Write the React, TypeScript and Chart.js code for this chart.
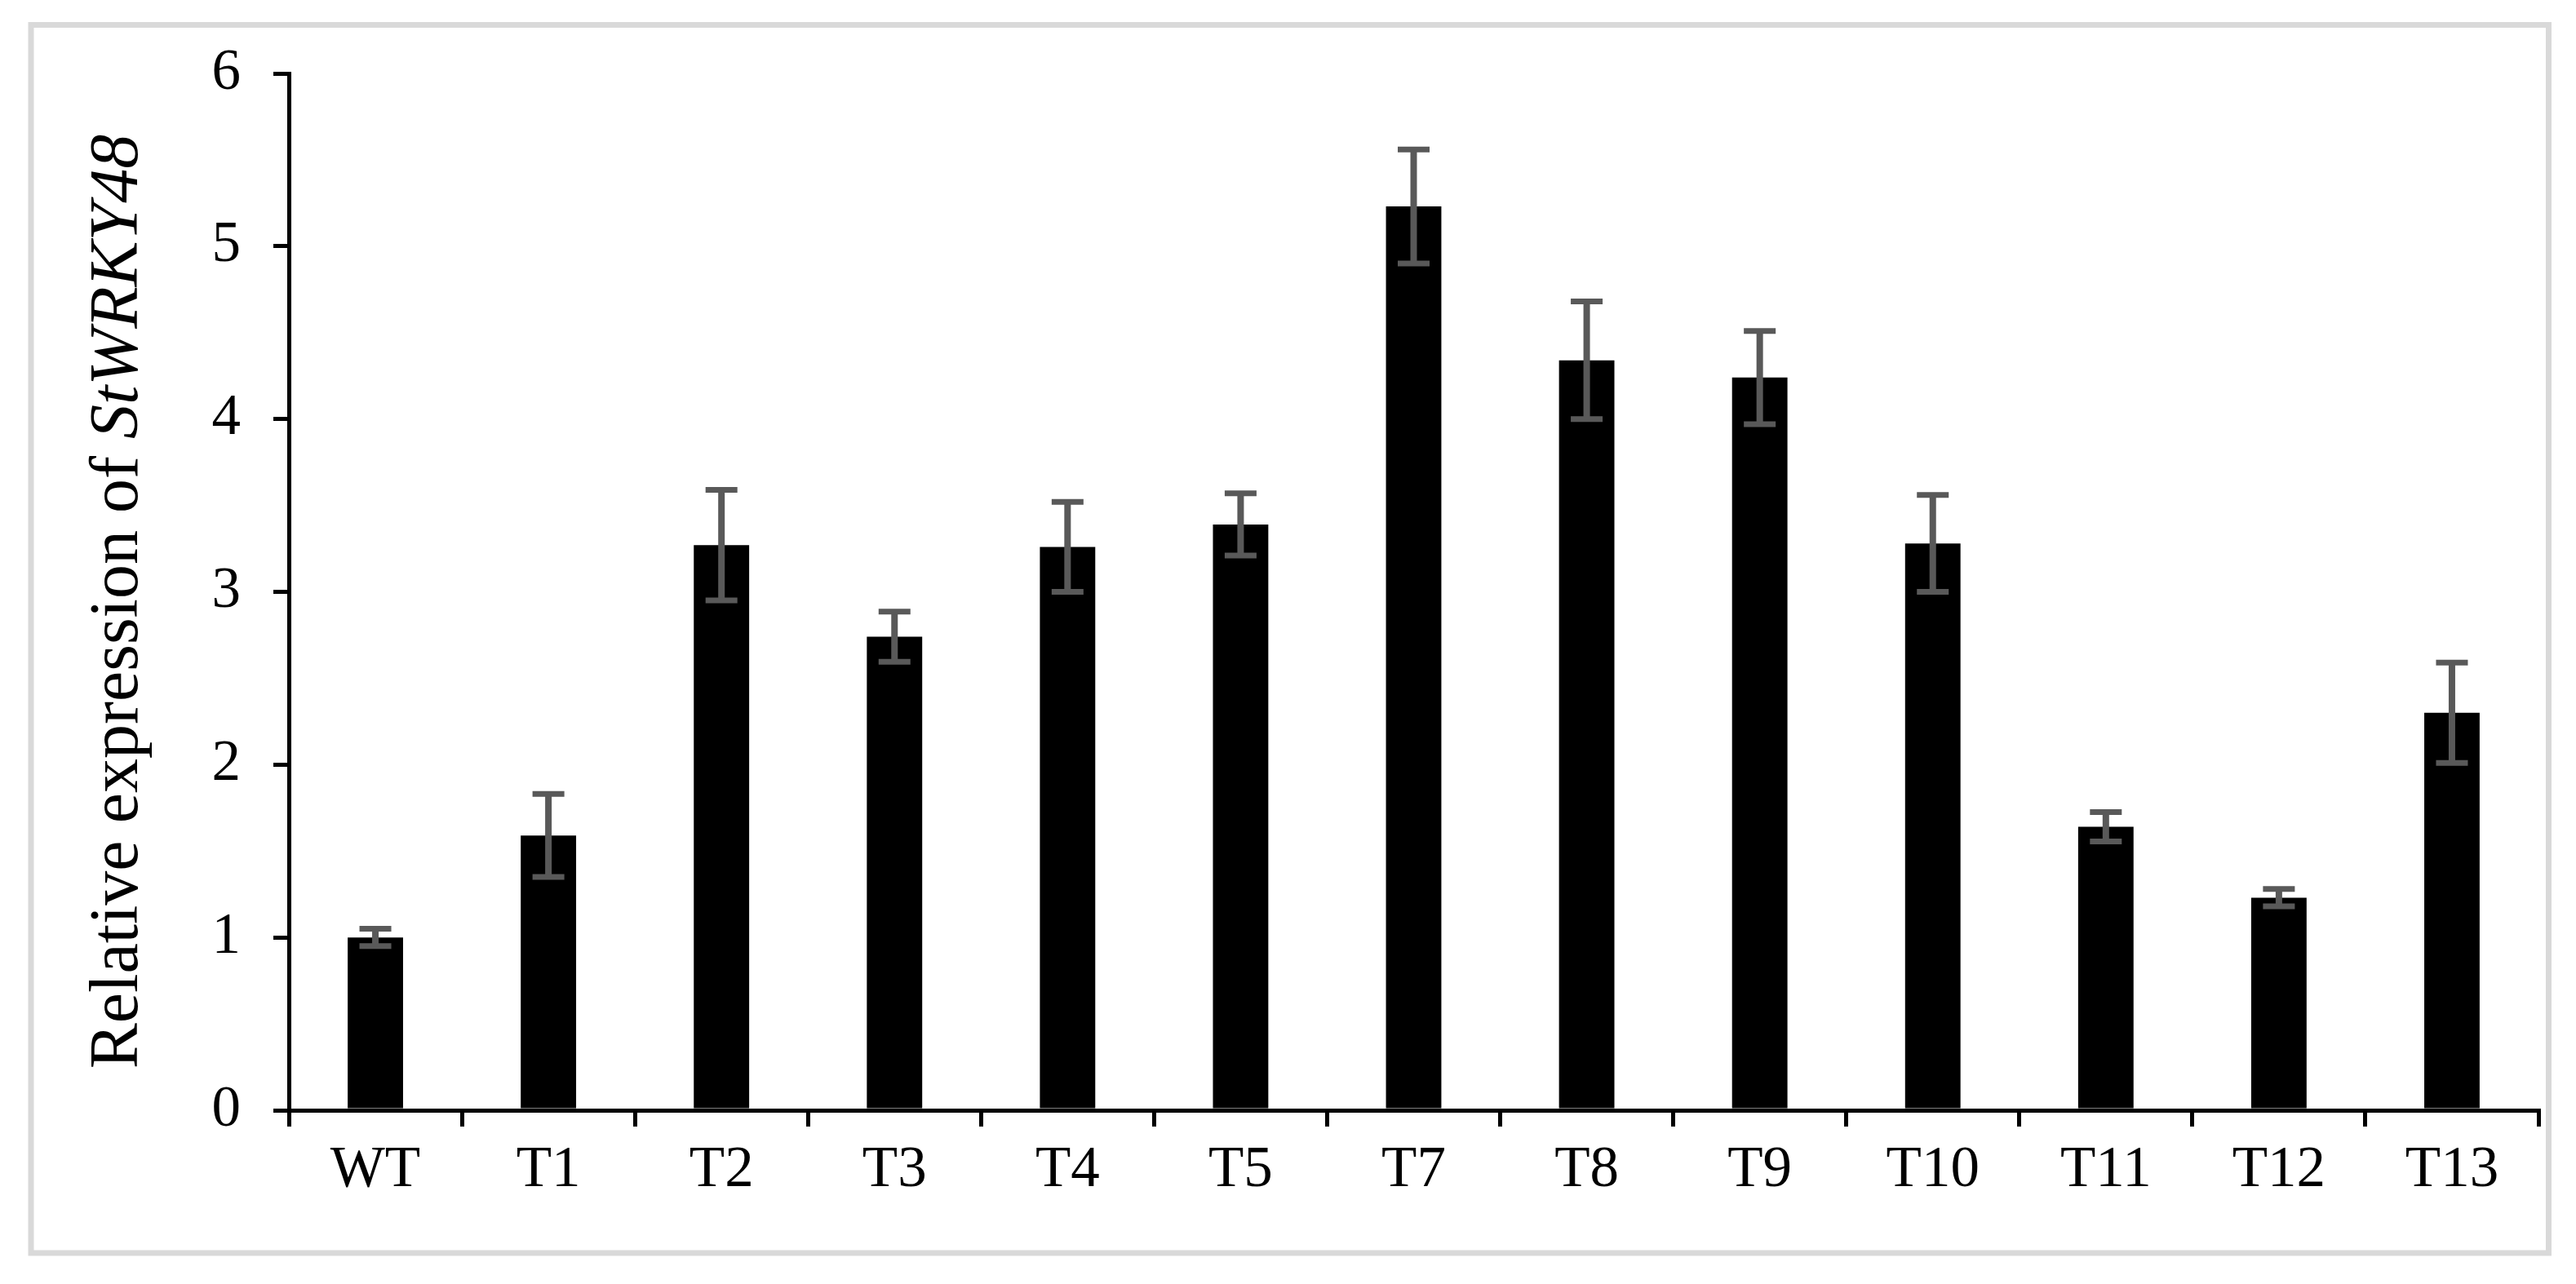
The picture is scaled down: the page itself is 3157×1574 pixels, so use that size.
import React, { useEffect, useRef } from "react";
import { Chart, registerables } from "chart.js";

Chart.register(...registerables);

const categories = ["WT", "T1", "T2", "T3", "T4", "T5", "T7", "T8", "T9", "T10", "T11", "T12", "T13"];
const values = [1.0, 1.59, 3.27, 2.74, 3.26, 3.39, 5.23, 4.34, 4.24, 3.28, 1.64, 1.23, 2.3];
const errors = [0.05, 0.24, 0.32, 0.145, 0.26, 0.18, 0.33, 0.34, 0.27, 0.28, 0.085, 0.05, 0.29];
const yMin = 0;
const yMax = 6;
const yStep = 1;
const titleNormal = "Relative expression of ";
const titleItalic = "StWRKY48";

const W = 3157;
const H = 1574;
const FONT = "'Liberation Serif', 'Times New Roman', serif";

export default function App() {
  const ref = useRef<HTMLCanvasElement | null>(null);

  useEffect(() => {
    const canvas = ref.current;
    if (!canvas) return;

    const framePlugin = {
      id: "frame",
      beforeDraw(chart: any) {
        const ctx = chart.ctx;
        ctx.save();
        ctx.fillStyle = "#ffffff";
        ctx.fillRect(0, 0, chart.width, chart.height);
        ctx.strokeStyle = "#d9d9d9";
        ctx.lineWidth = 7;
        ctx.strokeRect(38, 30.5, 3085.5, 1505.5);
        ctx.restore();
      },
    };

    const errorBarPlugin = {
      id: "errorBars",
      afterDatasetsDraw(chart: any) {
        const ctx = chart.ctx;
        const meta = chart.getDatasetMeta(0);
        const yScale = chart.scales.y;
        ctx.save();
        ctx.strokeStyle = "#595959";
        ctx.lineCap = "butt";
        meta.data.forEach((bar: any, i: number) => {
          const x = bar.x;
          const yTop = yScale.getPixelForValue(values[i] + errors[i]);
          const yBot = yScale.getPixelForValue(values[i] - errors[i]);
          ctx.lineWidth = 8;
          ctx.beginPath();
          ctx.moveTo(x, yTop);
          ctx.lineTo(x, yBot);
          ctx.stroke();
          ctx.lineWidth = 7;
          ctx.beginPath();
          ctx.moveTo(x - 19.5, yTop);
          ctx.lineTo(x + 19.5, yTop);
          ctx.moveTo(x - 19.5, yBot);
          ctx.lineTo(x + 19.5, yBot);
          ctx.stroke();
        });
        ctx.restore();
      },
    };

    const titlePlugin = {
      id: "yTitle",
      afterDraw(chart: any) {
        const ctx = chart.ctx;
        const area = chart.chartArea;
        const cy = (area.top + area.bottom) / 2 + 12;
        ctx.save();
        ctx.translate(168, cy);
        ctx.rotate(-Math.PI / 2);
        ctx.fillStyle = "#000";
        ctx.textBaseline = "alphabetic";
        ctx.textAlign = "left";
        const fNormal = `84px ${FONT}`;
        const fItalic = `italic 84px ${FONT}`;
        ctx.font = fNormal;
        const w1 = ctx.measureText(titleNormal).width;
        ctx.font = fItalic;
        const w2 = ctx.measureText(titleItalic).width;
        const start = -(w1 + w2) / 2;
        ctx.font = fNormal;
        ctx.fillText(titleNormal, start, 0);
        ctx.font = fItalic;
        ctx.fillText(titleItalic, start + w1, 0);
        ctx.restore();
      },
    };

    const chart = new Chart(canvas, {
      type: "bar",
      data: {
        labels: categories,
        datasets: [
          {
            data: values,
            backgroundColor: "#000000",
            borderWidth: 0,
            categoryPercentage: 1,
            barPercentage: 0.32,
          },
        ],
      },
      options: {
        responsive: false,
        animation: false,
        devicePixelRatio: 1,
        layout: { padding: { left: 0, top: 90, right: 46, bottom: 0 } },
        plugins: {
          legend: { display: false },
          tooltip: { enabled: false },
          title: { display: false },
        },
        scales: {
          x: {
            type: "category",
            offset: true,
            grid: {
              display: true,
              offset: true,
              drawOnChartArea: false,
              drawTicks: true,
              tickLength: 20,
              tickWidth: 5,
              tickColor: "#000",
              lineWidth: 5,
              color: "#000",
            },
            border: { display: true, color: "#000", width: 5 },
            ticks: {
              font: { family: FONT, size: 71 },
              color: "#000",
              padding: 12,
              maxRotation: 0,
              autoSkip: false,
            },
            afterFit: (s: any) => {
              s.height = 213;
            },
          },
          y: {
            min: yMin,
            max: yMax,
            ticks: {
              stepSize: yStep,
              font: { family: FONT, size: 71 },
              color: "#000",
              padding: 40,
            },
            grid: {
              drawOnChartArea: false,
              drawTicks: true,
              tickLength: 19,
              tickWidth: 5,
              tickColor: "#000",
              lineWidth: 5,
              color: "#000",
            },
            border: { display: true, color: "#000", width: 5 },
            afterFit: (s: any) => {
              s.width = 354;
            },
          },
        },
      },
      plugins: [framePlugin, errorBarPlugin, titlePlugin],
    } as any);

    return () => {
      chart.destroy();
    };
  }, []);

  return (
    <div style={{ position: "fixed", left: 0, top: 0, width: W, height: H, background: "#fff" }}>
      <canvas ref={ref} width={W} height={H} style={{ display: "block", width: W, height: H }} />
    </div>
  );
}
